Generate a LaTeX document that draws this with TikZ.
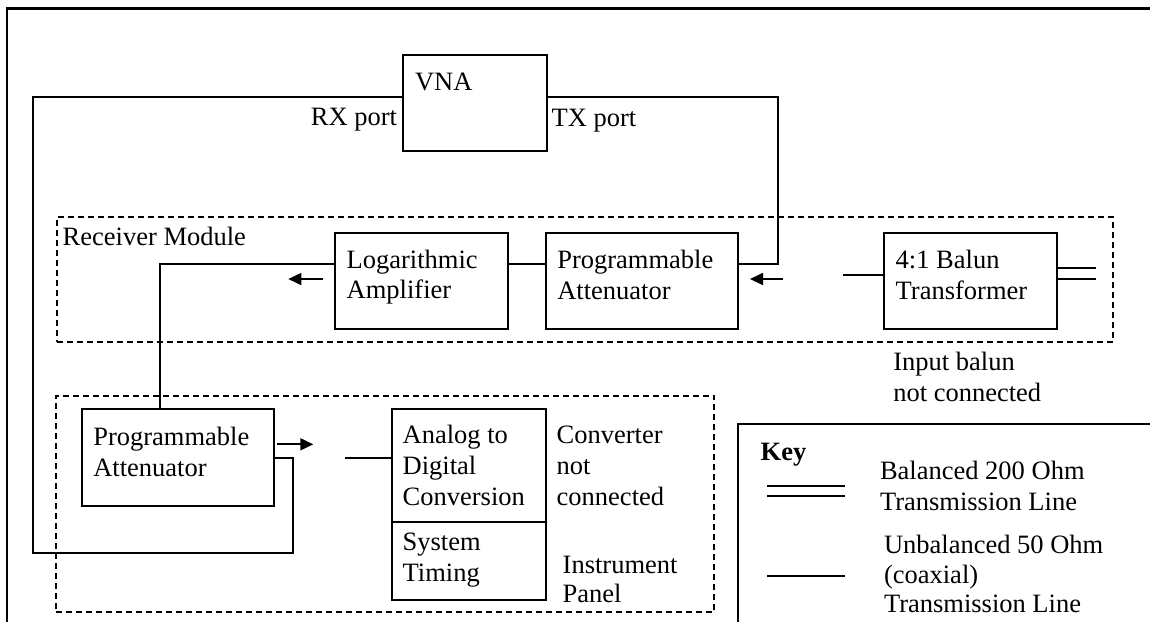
\documentclass[tikz,border=0pt]{standalone}
\usepackage{fontspec}
\setmainfont{Liberation Serif}
\usetikzlibrary{arrows.meta,fit}
\begin{document}
\begin{tikzpicture}[x=0.5pt,y=-0.5pt,
  every node/.style={font=\fontsize{13.25pt}{15.4pt}\selectfont, inner sep=0pt, outer sep=0pt},
  line/.style={line width=0.9pt},
  frame/.style={line width=1.1pt},
  blk/.style={draw, line width=0.9pt, rectangle, inner sep=0pt},
  grp/.style={draw, rectangle, inner sep=0pt, line width=0.9pt, dash pattern=on 3pt off 2pt},
  % multi-line labels are placed by the baseline of their last line
  txt/.style={anchor=base west, align=left},
  sig/.style={line width=0.9pt, -{Triangle[length=6.5pt,width=6pt]}},
]
\useasboundingbox (0,0) rectangle (1150,622);

% outer frame (open at right and bottom)
\draw[frame] (7,622) -- (7,8.5) -- (1150,8.5);

% module outlines
\node[grp, fit={(56.7,217.3) (1112.7,342.3)}] (rxmod) {};
\node[grp, fit={(56,396) (714.3,612)}] (panel) {};

% blocks
\node[blk, fit={(402.7,55) (547.3,150.7)}] (vna) {};
\node[blk, fit={(335,233.3) (508.3,329)}] (la) {};
\node[blk, fit={(546,233.3) (738.3,329)}] (pat1) {};
\node[blk, fit={(884.3,233.3) (1057.3,329.3)}] (bal) {};
\node[blk, fit={(81.7,409.3) (274.3,505.7)}] (pat2) {};
\node[blk, fit={(391.7,409.3) (545.7,521.7)}] (adc) {};
\node[blk, fit={(391.7,521.7) (545.7,600)}] (syt) {};

% labels
\node[txt] (vnat) at (415,90) {VNA};
\node[anchor=base east] (rxl) at (397,125) {RX port};
\node[txt] (txl) at (551.7,126) {TX port};
\node[txt] (rml) at (62.7,245.7) {Receiver Module};
\node[txt] (lat) at (346.7,298.8) {Logarithmic\\Amplifier};
\node[txt] (pat1t) at (557.3,299) {Programmable\\Attenuator};
\node[txt] (balt) at (895.7,299) {4:1 Balun\\Transformer};
\node[txt] (inb) at (893.3,401.7) {Input balun\\not connected};
\node[txt] (pat2t) at (93.3,476.7) {Programmable\\Attenuator};
\node[txt] (adct) at (402.7,505.5) {Analog to\\Digital\\Conversion};
\node[txt] (sytt) at (402.7,581.7) {System\\Timing};
\node[txt] (cnc) at (556.7,505.5) {Converter\\not\\connected};
\node[txt, font=\fontsize{13.25pt}{14.7pt}\selectfont] (ipl) at (562.7,602.7) {Instrument\\Panel};

% key
\draw[frame] (1150,424.3) -- (738.3,424.3) -- (738.3,622);
\node[txt, font=\fontsize{13.25pt}{15.4pt}\selectfont\bfseries] (key) at (760.7,460) {Key};
\node[txt] (k1) at (880,510.7) {Balanced 200 Ohm\\Transmission Line};
\node[txt, font=\fontsize{13.25pt}{14.6pt}\selectfont] (k2) at (884,612.3) {Unbalanced 50 Ohm\\(coaxial)\\Transmission Line};
\coordinate (kbA1) at (767.3,486); \coordinate (kbA2) at (845,486);
\coordinate (kbB1) at (767.3,496); \coordinate (kbB2) at (845,496);
\coordinate (kc1) at (767.3,576); \coordinate (kc2) at (845,576);
\draw[line] (kbA1) -- (kbA2);
\draw[line] (kbB1) -- (kbB2);
\draw[line] (kc1) -- (kc2);

% VNA TX port to receiver attenuator
\draw[line] (vna.east |- 0,96.7) -- (778.3,96.7) -- (778.3,264.3) -- (pat1.east |- 0,264.3);
% attenuator to log amplifier
\draw[line] (pat1.west |- 0,264.3) -- (la.east |- 0,264.3);
% log amplifier to panel attenuator
\draw[line] (la.west |- 0,264.3) -- (160,264.3) -- (160,0 |- pat2.north);
% panel attenuator back to VNA RX port
\draw[line] (pat2.east |- 0,458) -- (293.3,458) -- (293.3,552.7) -- (33.3,552.7) -- (33.3,96.7) -- (vna.west |- 0,96.7);

% unconnected balun input and balanced output
\coordinate (balin) at (843.3,275);
\draw[line] (balin) -- (bal.west |- balin);
\coordinate (balA) at (1096,268.3);
\coordinate (balB) at (1096,278.7);
\draw[line] (bal.east |- balA) -- (balA);
\draw[line] (bal.east |- balB) -- (balB);

% unconnected converter input
\coordinate (adcin) at (345,458);
\draw[line] (adcin) -- (adc.west |- adcin);

% signal direction arrows
\coordinate (s1a) at (323,279);   \coordinate (s1b) at (288.3,279);
\coordinate (s2a) at (783.3,279); \coordinate (s2b) at (750,279);
\coordinate (s3a) at (277.3,444.3); \coordinate (s3b) at (313.3,444.3);
\draw[sig] (s1a) -- (s1b);
\draw[sig] (s2a) -- (s2b);
\draw[sig] (s3a) -- (s3b);
\end{tikzpicture}
\end{document}
